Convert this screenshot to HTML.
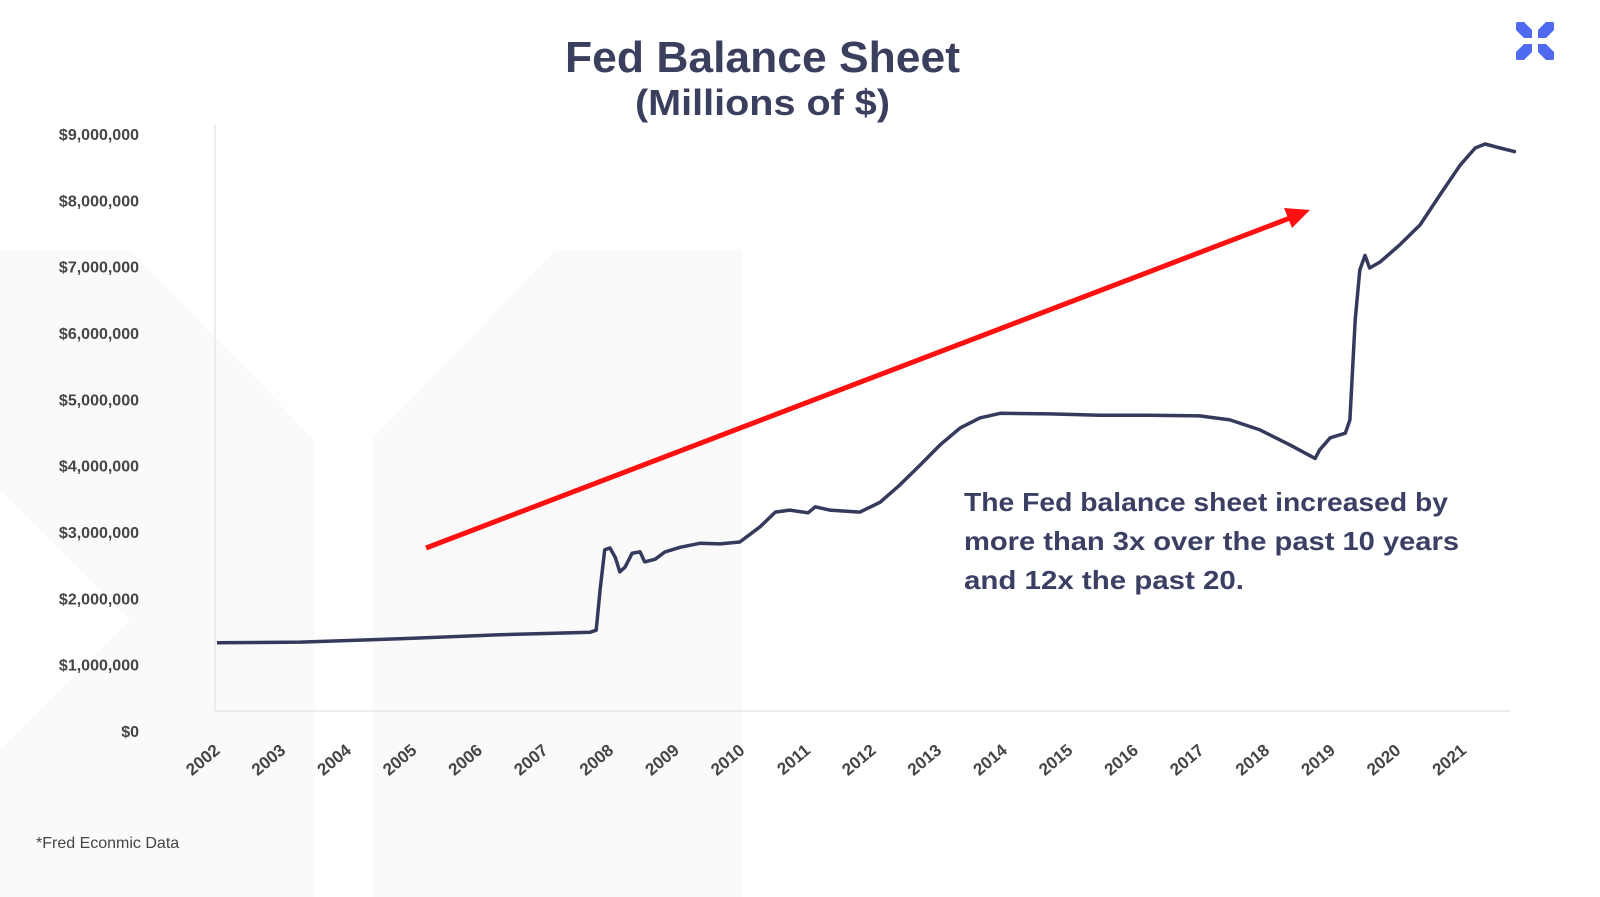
<!DOCTYPE html>
<html><head><meta charset="utf-8"><style>
body{margin:0;background:#fff;}
svg{display:block;font-family:"Liberation Sans",sans-serif;}
</style></head><body>
<svg id="chart" width="1600" height="897" viewBox="0 0 1600 897">
<g fill="#fafafa">
  <polygon points="0,250 130,250 315,440 315,897 0,897 0,750 130,620 0,490"/>
  <polygon points="372,440 555,250 742,250 742,897 372,897"/>
</g>
<g fill="#4f6af0">
  <polygon points="1546,22 1553,22 1554,23 1554,30 1546,38 1538,38 1538,30"/>
  <polygon points="1516,23 1517,22 1524,22 1532,30 1532,38 1524,38 1516,30"/>
  <polygon points="1538,44 1546,44 1554,52 1554,59 1553,60 1546,60 1538,52"/>
  <polygon points="1524,44 1532,44 1532,52 1524,60 1517,60 1516,59 1516,52"/>
</g>
<text x="565" y="72" font-size="44" font-weight="bold" fill="#3b3f5e" textLength="395" lengthAdjust="spacingAndGlyphs">Fed Balance Sheet</text>
<text x="635" y="115" font-size="36" font-weight="bold" fill="#3b3f5e" textLength="255" lengthAdjust="spacingAndGlyphs">(Millions of $)</text>
<line x1="215" y1="125" x2="215" y2="711" stroke="#e6e6e6" stroke-width="1.5"/>
<line x1="215" y1="711" x2="1510" y2="711" stroke="#e6e6e6" stroke-width="1.5"/>
<g id="yticks"></g>
<g id="xticks"></g>
<path id="series" fill="none" stroke="#353a5c" stroke-width="3.5" stroke-linejoin="round"/>
<g>
  <line x1="426" y1="548" x2="1290" y2="218" stroke="#ff1010" stroke-width="5"/>
  <polygon points="1310,210 1284,208 1292,228" fill="#ff1010"/>
</g>
<g font-size="26" font-weight="bold" fill="#3a3f63">
  <text x="964" y="511" textLength="484" lengthAdjust="spacingAndGlyphs">The Fed balance sheet increased by</text>
  <text x="964" y="550" textLength="495" lengthAdjust="spacingAndGlyphs">more than 3x over the past 10 years</text>
  <text x="964" y="589" textLength="280" lengthAdjust="spacingAndGlyphs">and 12x the past 20.</text>
</g>
<text x="36" y="848" font-size="16" fill="#444">*Fred Econmic Data</text>
</svg>
<script>
const yearLabels = ["2002","2003","2004","2005","2006","2007","2008","2009","2010","2011","2012","2013","2014","2015","2016","2017","2018","2019","2020","2021"];
const yTickValues = [0,1,2,3,4,5,6,7,8,9];
const yTickLabels = ["$0","$1,000,000","$2,000,000","$3,000,000","$4,000,000","$5,000,000","$6,000,000","$7,000,000","$8,000,000","$9,000,000"];
const dates = [2002.00,2003.27,2004.79,2006.31,2007.69,2007.78,2007.84,2007.91,2007.99,2008.07,2008.14,2008.22,2008.33,2008.45,2008.52,2008.68,2008.83,2009.06,2009.36,2009.67,2009.97,2010.28,2010.51,2010.73,2011.01,2011.12,2011.34,2011.80,2012.11,2012.41,2012.72,2013.02,2013.33,2013.63,2013.94,2014.70,2015.46,2016.22,2016.98,2017.44,2017.90,2018.36,2018.74,2018.81,2018.97,2019.20,2019.27,2019.35,2019.42,2019.50,2019.57,2019.73,2020.03,2020.34,2020.64,2020.95,2021.18,2021.33,2021.56,2021.80];
const balanceTrillions = [1.33,1.34,1.39,1.45,1.49,1.52,2.13,2.73,2.76,2.62,2.40,2.47,2.68,2.70,2.55,2.59,2.70,2.77,2.83,2.82,2.85,3.08,3.30,3.33,3.29,3.38,3.33,3.30,3.45,3.71,4.01,4.31,4.57,4.72,4.79,4.78,4.76,4.76,4.75,4.69,4.54,4.31,4.11,4.24,4.42,4.49,4.69,6.20,6.95,7.17,6.98,7.07,7.33,7.63,8.08,8.53,8.79,8.85,8.79,8.73];

const NS="http://www.w3.org/2000/svg";
function xScale(yr){return 217+(yr-2002)*65.6;}
function yScale(v){return 731-v*66.33;}

const yg=document.getElementById('yticks');
yTickValues.forEach((v,i)=>{
  const t=document.createElementNS(NS,'text');
  
  
  t.setAttribute('x',139);t.setAttribute('y',yScale(v)+6);
  t.setAttribute('text-anchor','end');t.setAttribute('font-size','16');
  t.setAttribute('font-weight','bold');t.setAttribute('fill','#454545');
  t.textContent=yTickLabels[i];yg.appendChild(t);
});
const xg=document.getElementById('xticks');
yearLabels.forEach((lab,i)=>{
  const x=xScale(2002+i)+4,y=752;
  const t=document.createElementNS(NS,'text');
  
  
  t.setAttribute('x',x);t.setAttribute('y',y);
  t.setAttribute('text-anchor','end');t.setAttribute('font-size','17');
  t.setAttribute('font-weight','bold');t.setAttribute('fill','#454545');
  t.setAttribute('transform','rotate(-40 '+x+' '+y+')');
  t.textContent=lab;xg.appendChild(t);
});
let d='';
dates.forEach((yr,i)=>{d+=(i?'L':'M')+xScale(yr).toFixed(1)+' '+yScale(balanceTrillions[i]).toFixed(1);});
document.getElementById('series').setAttribute('d',d);
</script>
</body></html>
